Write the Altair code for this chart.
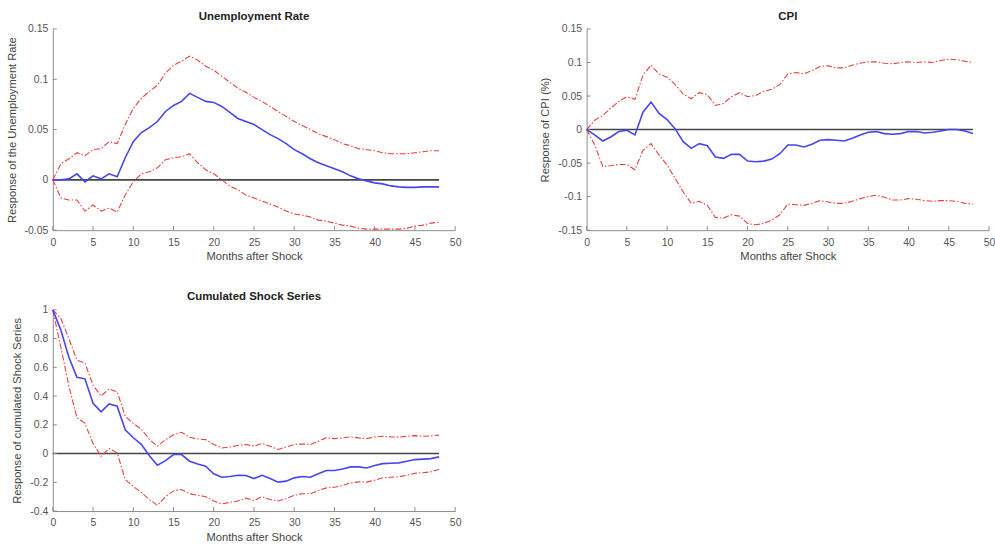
import altair as alt
import pandas as pd

months = list(range(49))

# Unemployment rate impulse response and its bands
unemp_resp = [0, 0, 0.001, 0.006, -0.002, 0.004, 0.001, 0.006, 0.003, 0.022,
              0.038, 0.047, 0.052, 0.058, 0.068, 0.074, 0.078, 0.086, 0.082, 0.078,
              0.077, 0.073, 0.067, 0.061, 0.058, 0.055, 0.050, 0.045, 0.041, 0.036,
              0.030, 0.026, 0.021, 0.017, 0.014, 0.011, 0.008, 0.004, 0.001, -0.001,
              -0.003, -0.004, -0.006, -0.007, -0.0075, -0.0075, -0.007, -0.007, -0.007]
unemp_upper = [0, 0.016, 0.021, 0.027, 0.024, 0.030, 0.031, 0.038, 0.036, 0.055,
               0.071, 0.081, 0.088, 0.094, 0.106, 0.114, 0.118, 0.123, 0.119, 0.113,
               0.109, 0.103, 0.097, 0.091, 0.087, 0.082, 0.078, 0.073, 0.068, 0.063,
               0.058, 0.054, 0.050, 0.046, 0.043, 0.040, 0.036, 0.034, 0.031, 0.030,
               0.029, 0.027, 0.026, 0.026, 0.026, 0.027, 0.028, 0.029, 0.029]
unemp_lower = [0, -0.018, -0.020, -0.020, -0.031, -0.025, -0.031, -0.028, -0.032, -0.015,
               -0.002, 0.006, 0.008, 0.012, 0.020, 0.022, 0.023, 0.026, 0.017, 0.010,
               0.006, 0.0, -0.006, -0.010, -0.015, -0.018, -0.021, -0.024, -0.027, -0.031,
               -0.034, -0.035, -0.037, -0.040, -0.041, -0.043, -0.045, -0.046, -0.048, -0.049,
               -0.049, -0.049, -0.049, -0.049, -0.048, -0.046, -0.045, -0.043, -0.042]

# CPI impulse response and its bands
cpi_resp = [0, -0.008, -0.017, -0.011, -0.003, -0.001, -0.008, 0.026, 0.041, 0.024,
            0.015, 0.001, -0.018, -0.028, -0.021, -0.024, -0.041, -0.043, -0.037, -0.037,
            -0.047, -0.048, -0.047, -0.044, -0.036, -0.023, -0.023, -0.026, -0.022, -0.016,
            -0.015, -0.016, -0.017, -0.013, -0.008, -0.004, -0.003, -0.006, -0.007, -0.006,
            -0.003, -0.003, -0.005, -0.004, -0.002, 0.0, 0.0, -0.002, -0.006]
cpi_upper = [0, 0.014, 0.021, 0.032, 0.042, 0.049, 0.045, 0.081, 0.096, 0.083,
             0.078, 0.067, 0.053, 0.046, 0.055, 0.052, 0.036, 0.039, 0.049, 0.055,
             0.049, 0.051, 0.057, 0.060, 0.067, 0.083, 0.085, 0.083, 0.088, 0.094,
             0.095, 0.092, 0.092, 0.096, 0.099, 0.101, 0.101, 0.099, 0.098, 0.100,
             0.101, 0.100, 0.101, 0.100, 0.103, 0.105, 0.104, 0.102, 0.100]
cpi_lower = [0, -0.023, -0.055, -0.054, -0.052, -0.052, -0.060, -0.031, -0.021, -0.038,
             -0.053, -0.073, -0.093, -0.110, -0.107, -0.113, -0.131, -0.132, -0.127, -0.129,
             -0.140, -0.142, -0.140, -0.135, -0.127, -0.111, -0.112, -0.113, -0.110, -0.106,
             -0.108, -0.110, -0.110, -0.107, -0.103, -0.100, -0.098, -0.101, -0.105, -0.105,
             -0.103, -0.104, -0.106, -0.107, -0.106, -0.106, -0.107, -0.110, -0.111]

# Cumulated shock series response and its bands
cum_resp = [1.0, 0.86, 0.67, 0.53, 0.52, 0.35, 0.29, 0.345, 0.33, 0.165,
            0.11, 0.064, -0.015, -0.081, -0.049, -0.007, -0.007, -0.053, -0.072, -0.088,
            -0.141, -0.165, -0.160, -0.151, -0.153, -0.174, -0.151, -0.174, -0.199, -0.192,
            -0.169, -0.160, -0.165, -0.141, -0.118, -0.118, -0.107, -0.093, -0.093, -0.100,
            -0.083, -0.070, -0.067, -0.065, -0.053, -0.042, -0.039, -0.035, -0.023]
cum_upper = [1.0, 0.94, 0.80, 0.65, 0.63, 0.475, 0.40, 0.45, 0.43, 0.26,
             0.21, 0.17, 0.098, 0.051, 0.097, 0.13, 0.148, 0.114, 0.102, 0.097,
             0.063, 0.039, 0.046, 0.056, 0.063, 0.051, 0.07, 0.051, 0.028, 0.046,
             0.063, 0.067, 0.063, 0.086, 0.109, 0.104, 0.109, 0.116, 0.109, 0.104,
             0.116, 0.12, 0.116, 0.114, 0.12, 0.125, 0.12, 0.123, 0.128]
cum_lower = [1.0, 0.74, 0.47, 0.25, 0.21, 0.07, -0.02, 0.035, 0.005, -0.18,
             -0.23, -0.27, -0.32, -0.36, -0.30, -0.26, -0.25, -0.28, -0.29, -0.30,
             -0.33, -0.35, -0.34, -0.33, -0.31, -0.327, -0.30, -0.32, -0.33, -0.313,
             -0.29, -0.28, -0.28, -0.257, -0.239, -0.234, -0.223, -0.204, -0.197, -0.199,
             -0.185, -0.169, -0.165, -0.162, -0.151, -0.137, -0.134, -0.127, -0.111]

x_ticks = [0, 5, 10, 15, 20, 25, 30, 35, 40, 45, 50]
unemp_ticks = [-0.05, 0, 0.05, 0.1, 0.15]
cpi_ticks = [-0.15, -0.1, -0.05, 0, 0.05, 0.1, 0.15]
cum_ticks = [-0.4, -0.2, 0, 0.2, 0.4, 0.6, 0.8, 1]

FONT = "Liberation Sans"
AXIS_GRAY = "#8c8c8c"
LABEL_GRAY = "#555555"
BLUE = "#4646f0"
RED = "#e5423f"
W, H = 404, 202


def panel(title, y_title, resp, upper, lower, y_domain, y_ticks):
    bands = pd.DataFrame({
        "month": months * 2,
        "value": upper + lower,
        "band": ["upper"] * len(months) + ["lower"] * len(months),
    })
    line_df = pd.DataFrame({"month": months, "value": resp})
    zero_df = pd.DataFrame({"x": [0], "x2": [48], "y": [0]})
    xt_df = pd.DataFrame({"t": x_ticks})
    yt_df = pd.DataFrame({"t": y_ticks})

    xs = alt.Scale(domain=[0, 50], nice=False, zero=False)
    ys = alt.Scale(domain=y_domain, nice=False, zero=False)

    common = dict(tickSize=0, grid=False, domainColor=AXIS_GRAY,
                  labelColor=LABEL_GRAY, labelFontSize=10.5, labelFont=FONT,
                  labelOverlap=False, labelFlush=False,
                  titleFont=FONT, titleFontSize=11.2,
                  titleFontWeight="normal", titleColor="#444444")
    x_axis = alt.Axis(values=x_ticks, title="Months after Shock",
                      labelPadding=7, titlePadding=3, **common)
    y_axis = alt.Axis(values=y_ticks, title=y_title, labelPadding=5,
                      titlePadding=7, labelExpr="'' + datum.value", **common)

    def X(field):
        return alt.X(field, scale=xs, axis=x_axis)

    def Y(field):
        return alt.Y(field, scale=ys, axis=y_axis)

    zero = alt.Chart(zero_df).mark_rule(color="#454545", strokeWidth=1.6).encode(
        x=X("x:Q"), x2="x2:Q", y=Y("y:Q"),
    )
    red = alt.Chart(bands).mark_line(color=RED, strokeWidth=1.1,
                                     strokeDash=[6, 2, 1.5, 2]).encode(
        x=X("month:Q"), y=Y("value:Q"), detail="band:N",
    )
    blue = alt.Chart(line_df).mark_line(color=BLUE, strokeWidth=1.6).encode(
        x=X("month:Q"), y=Y("value:Q"),
    )
    # inward tick marks along the bottom and left axis lines
    xtk = alt.Chart(xt_df).mark_rule(color=AXIS_GRAY, strokeWidth=1).encode(
        x=X("t:Q"), y=alt.value(H), y2=alt.value(H - 4),
    )
    ytk = alt.Chart(yt_df).mark_rule(color=AXIS_GRAY, strokeWidth=1).encode(
        y=Y("t:Q"), x=alt.value(0), x2=alt.value(4),
    )
    return alt.layer(zero, xtk, ytk, red, blue).properties(
        width=W, height=H,
        title=alt.TitleParams(title, font=FONT, fontSize=11.5, fontWeight="bold",
                              color="#222222", offset=2),
    )


p1 = panel("Unemployment Rate", "Response of the Unemployment Rate",
           unemp_resp, unemp_upper, unemp_lower, [-0.05, 0.15], unemp_ticks)
p2 = panel("CPI", "Response of CPI (%)",
           cpi_resp, cpi_upper, cpi_lower, [-0.15, 0.15], cpi_ticks)
p3 = panel("Cumulated Shock Series", "Response of cumulated Shock Series",
           cum_resp, cum_upper, cum_lower, [-0.4, 1.0], cum_ticks)

chart = alt.vconcat(
    alt.hconcat(p1, p2, spacing=79),
    p3,
    spacing=29,
).properties(
    padding={"left": 6, "top": 9, "right": 0, "bottom": 0},
    background="white",
).configure_view(stroke=None).configure_axis(labelOverlap=False)

chart.save("out.html", embed_options={"renderer": "svg", "actions": False})
